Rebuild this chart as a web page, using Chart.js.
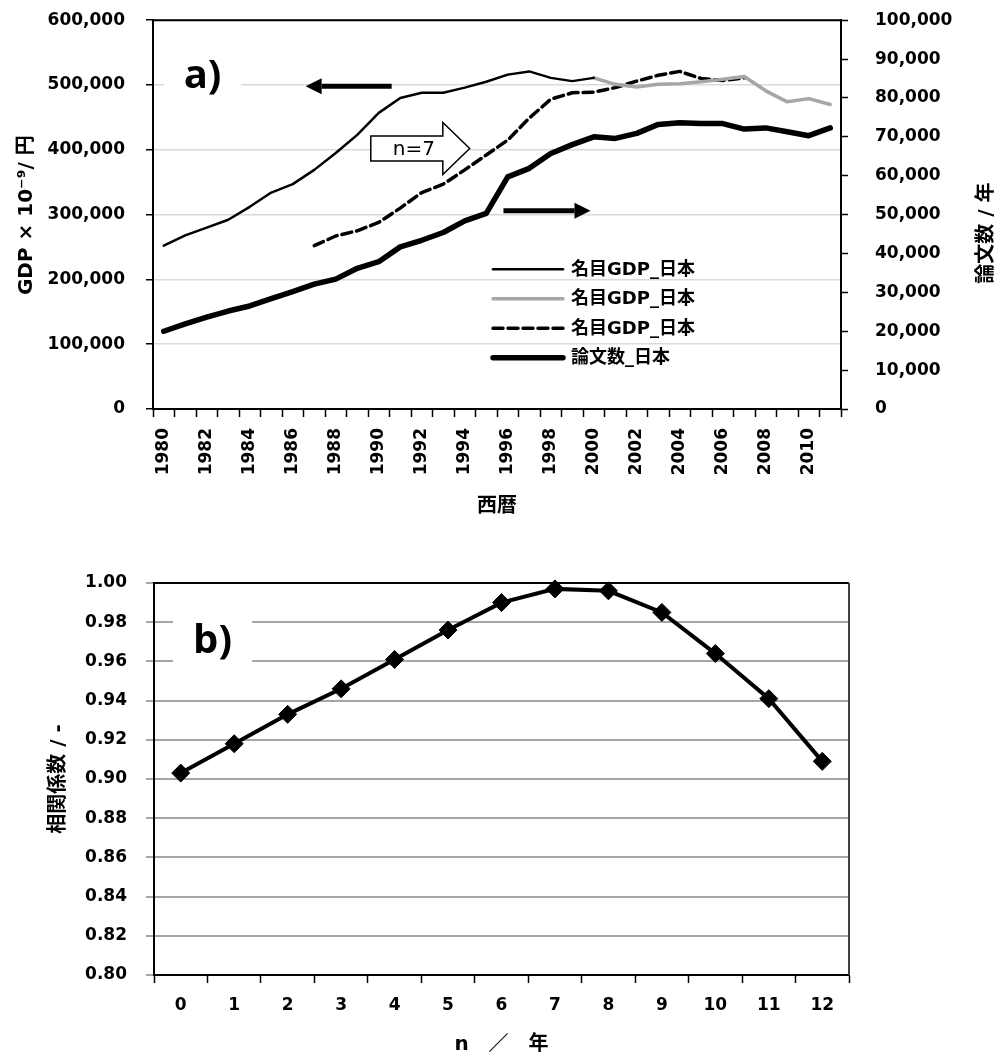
<!DOCTYPE html>
<html>
<head>
<meta charset="utf-8">
<script src="https://cdn.jsdelivr.net/npm/chart.js@4.4.1/dist/chart.umd.min.js"></script>
<style>
  html, body { margin: 0; padding: 0; background: #fff; overflow: hidden; }
  canvas { display: block; }
  #gdpChart { margin-top: -17px; }
</style>
</head>
<body>
<canvas id="gdpChart" width="1000" height="547"></canvas>
<canvas id="corrChart" width="1000" height="529"></canvas>
<script>
// --- data ---
const years = ['1980','1981','1982','1983','1984','1985','1986','1987','1988','1989',
               '1990','1991','1992','1993','1994','1995','1996','1997','1998','1999',
               '2000','2001','2002','2003','2004','2005','2006','2007','2008','2009',
               '2010','2011'];

// nominal GDP, 1980-2000 (black)
const gdpBlack = [252000, 268000, 280000, 292000, 312000, 334000, 347000, 369000, 395000, 423000,
                  457000, 480000, 488000, 488000, 496000, 505000, 516000, 521000, 511000, 506000,
                  511000, null, null, null, null, null, null, null, null, null, null, null];
// nominal GDP, 2000-2011 (grey)
const gdpGrey = [null, null, null, null, null, null, null, null, null, null,
                 null, null, null, null, null, null, null, null, null, null,
                 511000, 501000, 497000, 501000, 502000, 505000, 509000, 513000, 491000, 474000,
                 479000, 470000];
// nominal GDP shifted by n=7 (dashed)
const gdpShift = [null, null, null, null, null, null, null, 252000, 267000, 275000,
                  288000, 310000, 334000, 347000, 369000, 392000, 415000, 449000, 478000, 488000,
                  489000, 496000, 506000, 515000, 521000, 510000, 507000, 511000, null, null,
                  null, null];
// papers per year (right axis)
const papers = [20000, 21900, 23600, 25200, 26500, 28400, 30200, 32100, 33400, 36200,
                37900, 41700, 43400, 45400, 48400, 50300, 59700, 61900, 65700, 68000,
                70000, 69600, 70900, 73200, 73600, 73400, 73400, 72000, 72300, 71300,
                70300, 72300];

const lags = ['0','1','2','3','4','5','6','7','8','9','10','11','12'];
const corr = [0.903, 0.918, 0.933, 0.946, 0.961, 0.976, 0.990, 0.997, 0.996, 0.985, 0.964, 0.941, 0.909];

const FAM = "'DejaVu Sans', 'Noto Sans CJK JP', sans-serif";
Chart.defaults.font = { family: FAM, size: 17, weight: 'bold' };
Chart.defaults.color = '#000';

function vText(ctx, text, x, y, font) {
    ctx.save();
    ctx.translate(x, y);
    ctx.rotate(-Math.PI / 2);
    ctx.font = font;
    ctx.fillStyle = '#000';
    ctx.textAlign = 'center';
    ctx.textBaseline = 'middle';
    ctx.fillText(text, 0, 0);
    ctx.restore();
}

function lineArrow(ctx, x1, x2, y) {
    const dir = Math.sign(x2 - x1), head = 16, half = 8;
    ctx.save();
    ctx.strokeStyle = '#000'; ctx.fillStyle = '#000';
    ctx.lineWidth = 5;
    ctx.beginPath(); ctx.moveTo(x1, y); ctx.lineTo(x2 - dir * head, y); ctx.stroke();
    ctx.beginPath();
    ctx.moveTo(x2, y);
    ctx.lineTo(x2 - dir * head, y - half);
    ctx.lineTo(x2 - dir * head, y + half);
    ctx.closePath(); ctx.fill();
    ctx.restore();
}

function whiteBox(ctx, x, y, w, h, label) {
    ctx.save();
    ctx.fillStyle = '#fff';
    ctx.fillRect(x, y, w, h);
    ctx.fillStyle = '#000';
    ctx.font = "bold 40px 'Open Sans', " + FAM;
    ctx.textAlign = 'center';
    ctx.textBaseline = 'middle';
    ctx.fillText(label, x + w / 2, y + h / 2);
    ctx.restore();
}

const gdpDecor = {
    id: 'gdpDecor',
    beforeDatasetsDraw(chart) {
        const { ctx, chartArea: a } = chart;
        whiteBox(ctx, a.left + 11, a.top + 14, 77, 84, 'a)');
    },
    afterDatasetsDraw(chart) {
        const { ctx, chartArea: a, scales } = chart;
        const xs = scales.x, yl = scales.y, yr = scales.y2;
        // top border
        ctx.save();
        ctx.strokeStyle = '#000'; ctx.lineWidth = 2;
        ctx.beginPath(); ctx.moveTo(a.left, a.top); ctx.lineTo(a.right, a.top); ctx.stroke();
        ctx.restore();

        // arrows pointing at the axes
        lineArrow(ctx, xs.getPixelForValue(10.6), xs.getPixelForValue(6.6), yl.getPixelForValue(498000));
        lineArrow(ctx, xs.getPixelForValue(15.8), xs.getPixelForValue(19.85), yr.getPixelForValue(51000));

        // block arrow "n=7"
        const bx0 = xs.getPixelForValue(9.63), bxh = xs.getPixelForValue(12.98), bx1 = xs.getPixelForValue(14.23);
        const by = yl.getPixelForValue(402000);
        ctx.save();
        ctx.beginPath();
        ctx.moveTo(bx0, by - 12.5);
        ctx.lineTo(bxh, by - 12.5);
        ctx.lineTo(bxh, by - 26);
        ctx.lineTo(bx1, by);
        ctx.lineTo(bxh, by + 26);
        ctx.lineTo(bxh, by + 12.5);
        ctx.lineTo(bx0, by + 12.5);
        ctx.closePath();
        ctx.fillStyle = '#fff'; ctx.fill();
        ctx.strokeStyle = '#000'; ctx.lineWidth = 1.5; ctx.stroke();
        ctx.fillStyle = '#000';
        ctx.font = "20px " + FAM;
        ctx.textAlign = 'center'; ctx.textBaseline = 'middle';
        ctx.fillText('n=7', bx0 + 43, by + 1);
        ctx.restore();

        // legend inside plot
        ctx.save();
        chart.data.datasets.forEach((ds, i) => {
            const y = a.top + 249 + i * 29.5;
            const x = a.left + 340;
            ctx.strokeStyle = ds.borderColor;
            ctx.lineWidth = ds.borderWidth;
            ctx.lineCap = 'round';
            ctx.setLineDash(ds.borderDash || []);
            ctx.beginPath(); ctx.moveTo(x, y); ctx.lineTo(x + 70, y); ctx.stroke();
            ctx.setLineDash([]);
            ctx.fillStyle = '#000';
            ctx.font = "bold 18px " + FAM;
            ctx.textAlign = 'left'; ctx.textBaseline = 'middle';
            ctx.fillText(ds.label, x + 78, y + 1);
        });
        ctx.restore();
    },
    afterDraw(chart) {
        const { ctx, chartArea: a } = chart;
        const f = "bold 20px " + FAM;
        vText(ctx, 'GDP × 10⁻⁹/ 円', 27, a.top + 195, f);
        vText(ctx, '論文数 / 年', 987, a.top + 213, f);
        ctx.save();
        ctx.font = f; ctx.fillStyle = '#000';
        ctx.textAlign = 'center'; ctx.textBaseline = 'middle';
        ctx.fillText('西暦', (a.left + a.right) / 2, a.bottom + 98);
        ctx.restore();
    }
};

new Chart(document.getElementById('gdpChart'), {
    type: 'line',
    data: {
        labels: years,
        datasets: [
            { label: '名目GDP_日本', data: gdpBlack, yAxisID: 'y', borderColor: '#000', borderWidth: 2.5 },
            { label: '名目GDP_日本', data: gdpGrey, yAxisID: 'y', borderColor: '#a6a6a6', borderWidth: 3.5 },
            { label: '名目GDP_日本', data: gdpShift, yAxisID: 'y', borderColor: '#000', borderWidth: 3.5, borderDash: [10, 5] },
            { label: '論文数_日本', data: papers, yAxisID: 'y2', borderColor: '#000', borderWidth: 5.5 }
        ].map(d => Object.assign({ pointRadius: 0, tension: 0, fill: false, spanGaps: false,
                                   borderCapStyle: 'round', borderJoinStyle: 'round' }, d))
    },
    options: {
        responsive: false,
        animation: false,
        layout: { padding: 0 },
        plugins: { legend: { display: false }, tooltip: { enabled: false } },
        scales: {
            x: {
                offset: true,
                grid: { offset: true, drawOnChartArea: false, tickLength: 8, tickColor: '#000', tickWidth: 1.5 },
                border: { color: '#000', width: 2 },
                ticks: { autoSkip: false, minRotation: 90, maxRotation: 90, padding: 11,
                         callback: (v, i) => i % 2 === 0 ? years[i] : '' },
                afterFit: s => { s.height = 121; }
            },
            y: {
                position: 'left', min: 0, max: 600000,
                ticks: { stepSize: 100000, padding: 21, callback: v => v.toLocaleString('en-US') },
                grid: { color: '#d9d9d9', lineWidth: 1.5, tickColor: '#000', tickLength: 7, tickWidth: 1.5 },
                border: { color: '#000', width: 2 },
                afterFit: s => { s.width = 153; }
            },
            y2: {
                position: 'right', min: 0, max: 100000,
                ticks: { stepSize: 10000, padding: 27, callback: v => v.toLocaleString('en-US') },
                grid: { drawOnChartArea: false, tickColor: '#000', tickLength: 7, tickWidth: 1.5 },
                border: { color: '#000', width: 2 },
                afterFit: s => { s.width = 159; }
            }
        }
    },
    plugins: [gdpDecor]
});

const corrDecor = {
    id: 'corrDecor',
    beforeDatasetsDraw(chart) {
        const { ctx, chartArea: a } = chart;
        whiteBox(ctx, a.left + 19, a.top + 15, 79, 88, 'b)');
    },
    afterDatasetsDraw(chart) {
        const { ctx, chartArea: a } = chart;
        ctx.save();
        ctx.lineWidth = 2;
        ctx.strokeStyle = '#000';
        ctx.beginPath(); ctx.moveTo(a.left, a.top); ctx.lineTo(a.right, a.top); ctx.stroke();
        ctx.strokeStyle = '#404040';
        ctx.beginPath(); ctx.moveTo(a.right, a.top); ctx.lineTo(a.right, a.bottom); ctx.stroke();
        ctx.restore();
    },
    afterDraw(chart) {
        const { ctx, chartArea: a } = chart;
        const f = "bold 20px " + FAM;
        vText(ctx, '相関係数 / -', 59, (a.top + a.bottom) / 2, f);
        ctx.save();
        ctx.font = f; ctx.fillStyle = '#000';
        ctx.textAlign = 'center'; ctx.textBaseline = 'middle';
        ctx.fillText('n　／　年', (a.left + a.right) / 2, 515);
        ctx.restore();
    }
};

new Chart(document.getElementById('corrChart'), {
    type: 'line',
    data: {
        labels: lags,
        datasets: [{
            data: corr,
            borderColor: '#000', borderWidth: 4, tension: 0,
            pointStyle: 'rectRot', pointRadius: 9,
            pointBackgroundColor: '#000', pointBorderColor: '#000', pointBorderWidth: 1,
            clip: false
        }]
    },
    options: {
        responsive: false,
        animation: false,
        layout: { padding: { top: 53, left: 0, right: 151, bottom: 0 } },
        plugins: { legend: { display: false }, tooltip: { enabled: false } },
        scales: {
            x: {
                offset: true,
                grid: { offset: true, drawOnChartArea: false, tickLength: 8, tickColor: '#000', tickWidth: 1.5 },
                border: { color: '#000', width: 2 },
                ticks: { autoSkip: false, maxRotation: 0, padding: 12 },
                afterFit: s => { s.height = 84; }
            },
            y: {
                min: 0.80, max: 1.00,
                ticks: { stepSize: 0.02, padding: 19, callback: v => v.toFixed(2) },
                grid: { color: '#a6a6a6', lineWidth: 2, tickLength: 8 },
                border: { color: '#000', width: 2 },
                afterFit: s => { s.width = 154; }
            }
        }
    },
    plugins: [corrDecor]
});
</script>
</body>
</html>
